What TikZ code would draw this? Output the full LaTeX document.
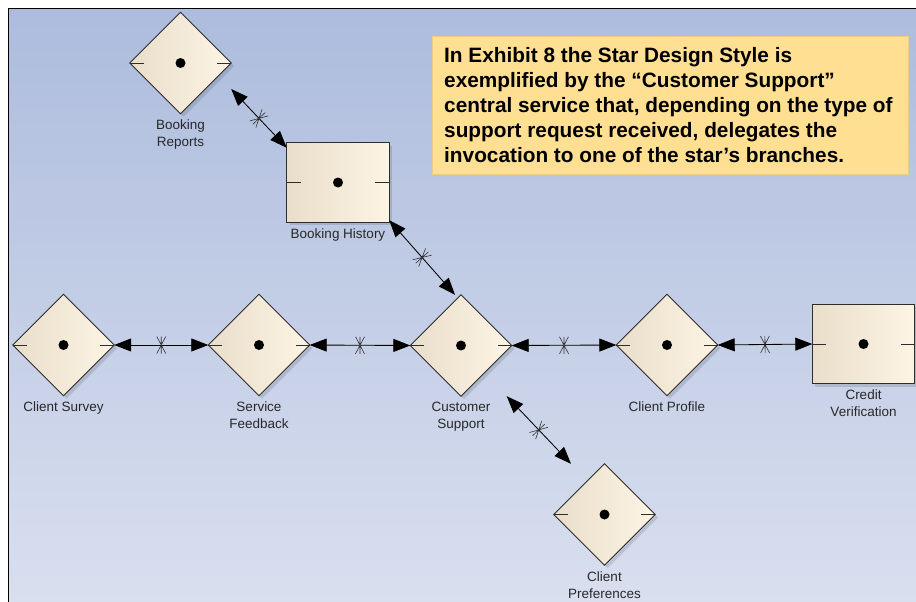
\documentclass[tikz,border=0pt]{standalone}
\usepackage{fontspec}
\setmainfont{Liberation Sans}
\usetikzlibrary{arrows.meta,decorations.markings,calc}

\definecolor{bgtop}{RGB}{173,188,221}
\definecolor{bgbot}{RGB}{217,223,239}
\definecolor{noteY}{RGB}{255,223,146}
\definecolor{svcL}{RGB}{233,222,202}
\definecolor{svcR}{RGB}{253,244,228}
\definecolor{edgec}{RGB}{45,45,45}
\definecolor{lblc}{RGB}{40,40,40}

\tikzset{
  svcbox/.style={rectangle, inner sep=0pt, minimum width=101pt, minimum height=101pt},
  recbox/.style={rectangle, inner sep=0pt, minimum width=102pt, minimum height=79pt},
  svclabel/.style={anchor=north, align=center, text=lblc, inner sep=0pt,
    font=\fontsize{13.5}{17}\selectfont},
  outline/.style={draw=edgec, line width=0.8pt},
  svcfill/.style={left color=svcL, middle color=svcR, right color=svcR},
  dropshadow/.style={fill=black, opacity=0.12},
  link/.style={{Triangle[length=17pt,width=13pt]}-{Triangle[length=17pt,width=13pt]},
    line width=0.85pt, postaction={decorate},
    decoration={markings, mark=at position 0.5 with {
      \draw[-, line width=0.6pt, draw=black!80] (0pt,-8.5pt) -- (0pt,8.5pt)
        (-4.5pt,-8.5pt) -- (4.5pt,8.5pt) (4.5pt,-8.5pt) -- (-4.5pt,8.5pt);}}},
}

% a service drawn as a diamond inside a square box
\newcommand\svcdiamond[2]{%
  \node[svcbox] (#1) at (#2) {};
  \fill[dropshadow] ([shift={(3pt,-3pt)}]#1.north) -- ([shift={(3pt,-3pt)}]#1.east)
    -- ([shift={(3pt,-3pt)}]#1.south) -- ([shift={(3pt,-3pt)}]#1.west) -- cycle;
  \shade[svcfill] (#1.north) -- (#1.east) -- (#1.south) -- (#1.west) -- cycle;
  \draw[outline] (#1.north) -- (#1.east) -- (#1.south) -- (#1.west) -- cycle;
  \draw[outline] (#1.west) -- ++(14pt,0pt) (#1.east) -- ++(-14pt,0pt);
  \fill[black] (#1.center) circle (5pt);
}

% a service drawn as a rectangle
\newcommand\svcrect[2]{%
  \node[recbox] (#1) at (#2) {};
  \fill[dropshadow] ([shift={(3pt,-3pt)}]#1.north west) rectangle ([shift={(3pt,-3pt)}]#1.south east);
  \shade[svcfill] (#1.north west) rectangle (#1.south east);
  \draw[outline] (#1.north west) rectangle (#1.south east);
  \draw[outline] (#1.west) -- ++(14pt,0pt) (#1.east) -- ++(-14pt,0pt);
  \fill[black] (#1.center) circle (5pt);
}

\begin{document}
\begin{tikzpicture}[x=1pt,y=-1pt]
  \useasboundingbox (0,0) rectangle (916,602);
  \fill[white] (0,0) rectangle (916,602);

  % canvas
  \shade[top color=bgtop, bottom color=bgbot] (8.5,8.5) rectangle (916,602);
  \draw[line width=1.6pt] (8.5,602) -- (8.5,8.5) -- (916,8.5);

  % note
  \node[rectangle, fill=noteY, draw=noteY!92!black, line width=0.5pt,
        minimum width=476pt, minimum height=138pt, inner sep=0pt] (note) at (670,105) {};
  \node[anchor=north west, align=left, inner sep=0pt,
        font=\bfseries\fontsize{20.8}{25}\selectfont] (notetext) at (444,47)
    {In Exhibit 8 the Star Design Style is\\
     exemplified by the “Customer Support”\\
     central service that, depending on the type of\\
     support request received, delegates the\\
     invocation to one of the star’s branches.};

  % services
  \svcdiamond{br}{180.5,63}
  \svcrect{bh}{338,182.5}
  \svcdiamond{csv}{63.5,345}
  \svcdiamond{sf}{259,345}
  \svcdiamond{cs}{461,345.5}
  \svcdiamond{cp}{667,345}
  \svcrect{cv}{863.5,344}
  \svcdiamond{cpr}{604.5,514.5}

  % labels
  \node[svclabel] (brl)  at ([yshift=-6pt]br.south)  {Booking\\Reports};
  \node[svclabel] (bhl)  at ([yshift=-6pt]bh.south)  {Booking History};
  \node[svclabel] (csvl) at ([yshift=-6pt]csv.south) {Client Survey};
  \node[svclabel] (sfl)  at ([yshift=-6pt]sf.south)  {Service\\Feedback};
  \node[svclabel] (csl)  at ([yshift=-6pt]cs.south)  {Customer\\Support};
  \node[svclabel] (cpl)  at ([yshift=-6pt]cp.south)  {Client Profile};
  \node[svclabel] (cvl)  at ([yshift=-6pt]cv.south)  {Credit\\Verification};
  \node[svclabel] (cprl) at ([yshift=-6pt]cpr.south) {Client\\Preferences};

  % links
  \draw[link] ([yshift=-26pt]br.east) -- ([yshift=-5pt]bh.north west);
  \draw[link] ([yshift=2pt]bh.south east) -- ([xshift=-6pt]cs.north);
  \draw[link] (csv.east) -- (sf.west);
  \draw[link] (sf.east) -- (cs.west);
  \draw[link] (cs.east) -- (cp.west);
  \draw[link] (cp.east) -- (cv.west);
  \draw[link] ([xshift=-5pt]cs.south east) -- ([xshift=-33.5pt]cpr.north);
\end{tikzpicture}
\end{document}
